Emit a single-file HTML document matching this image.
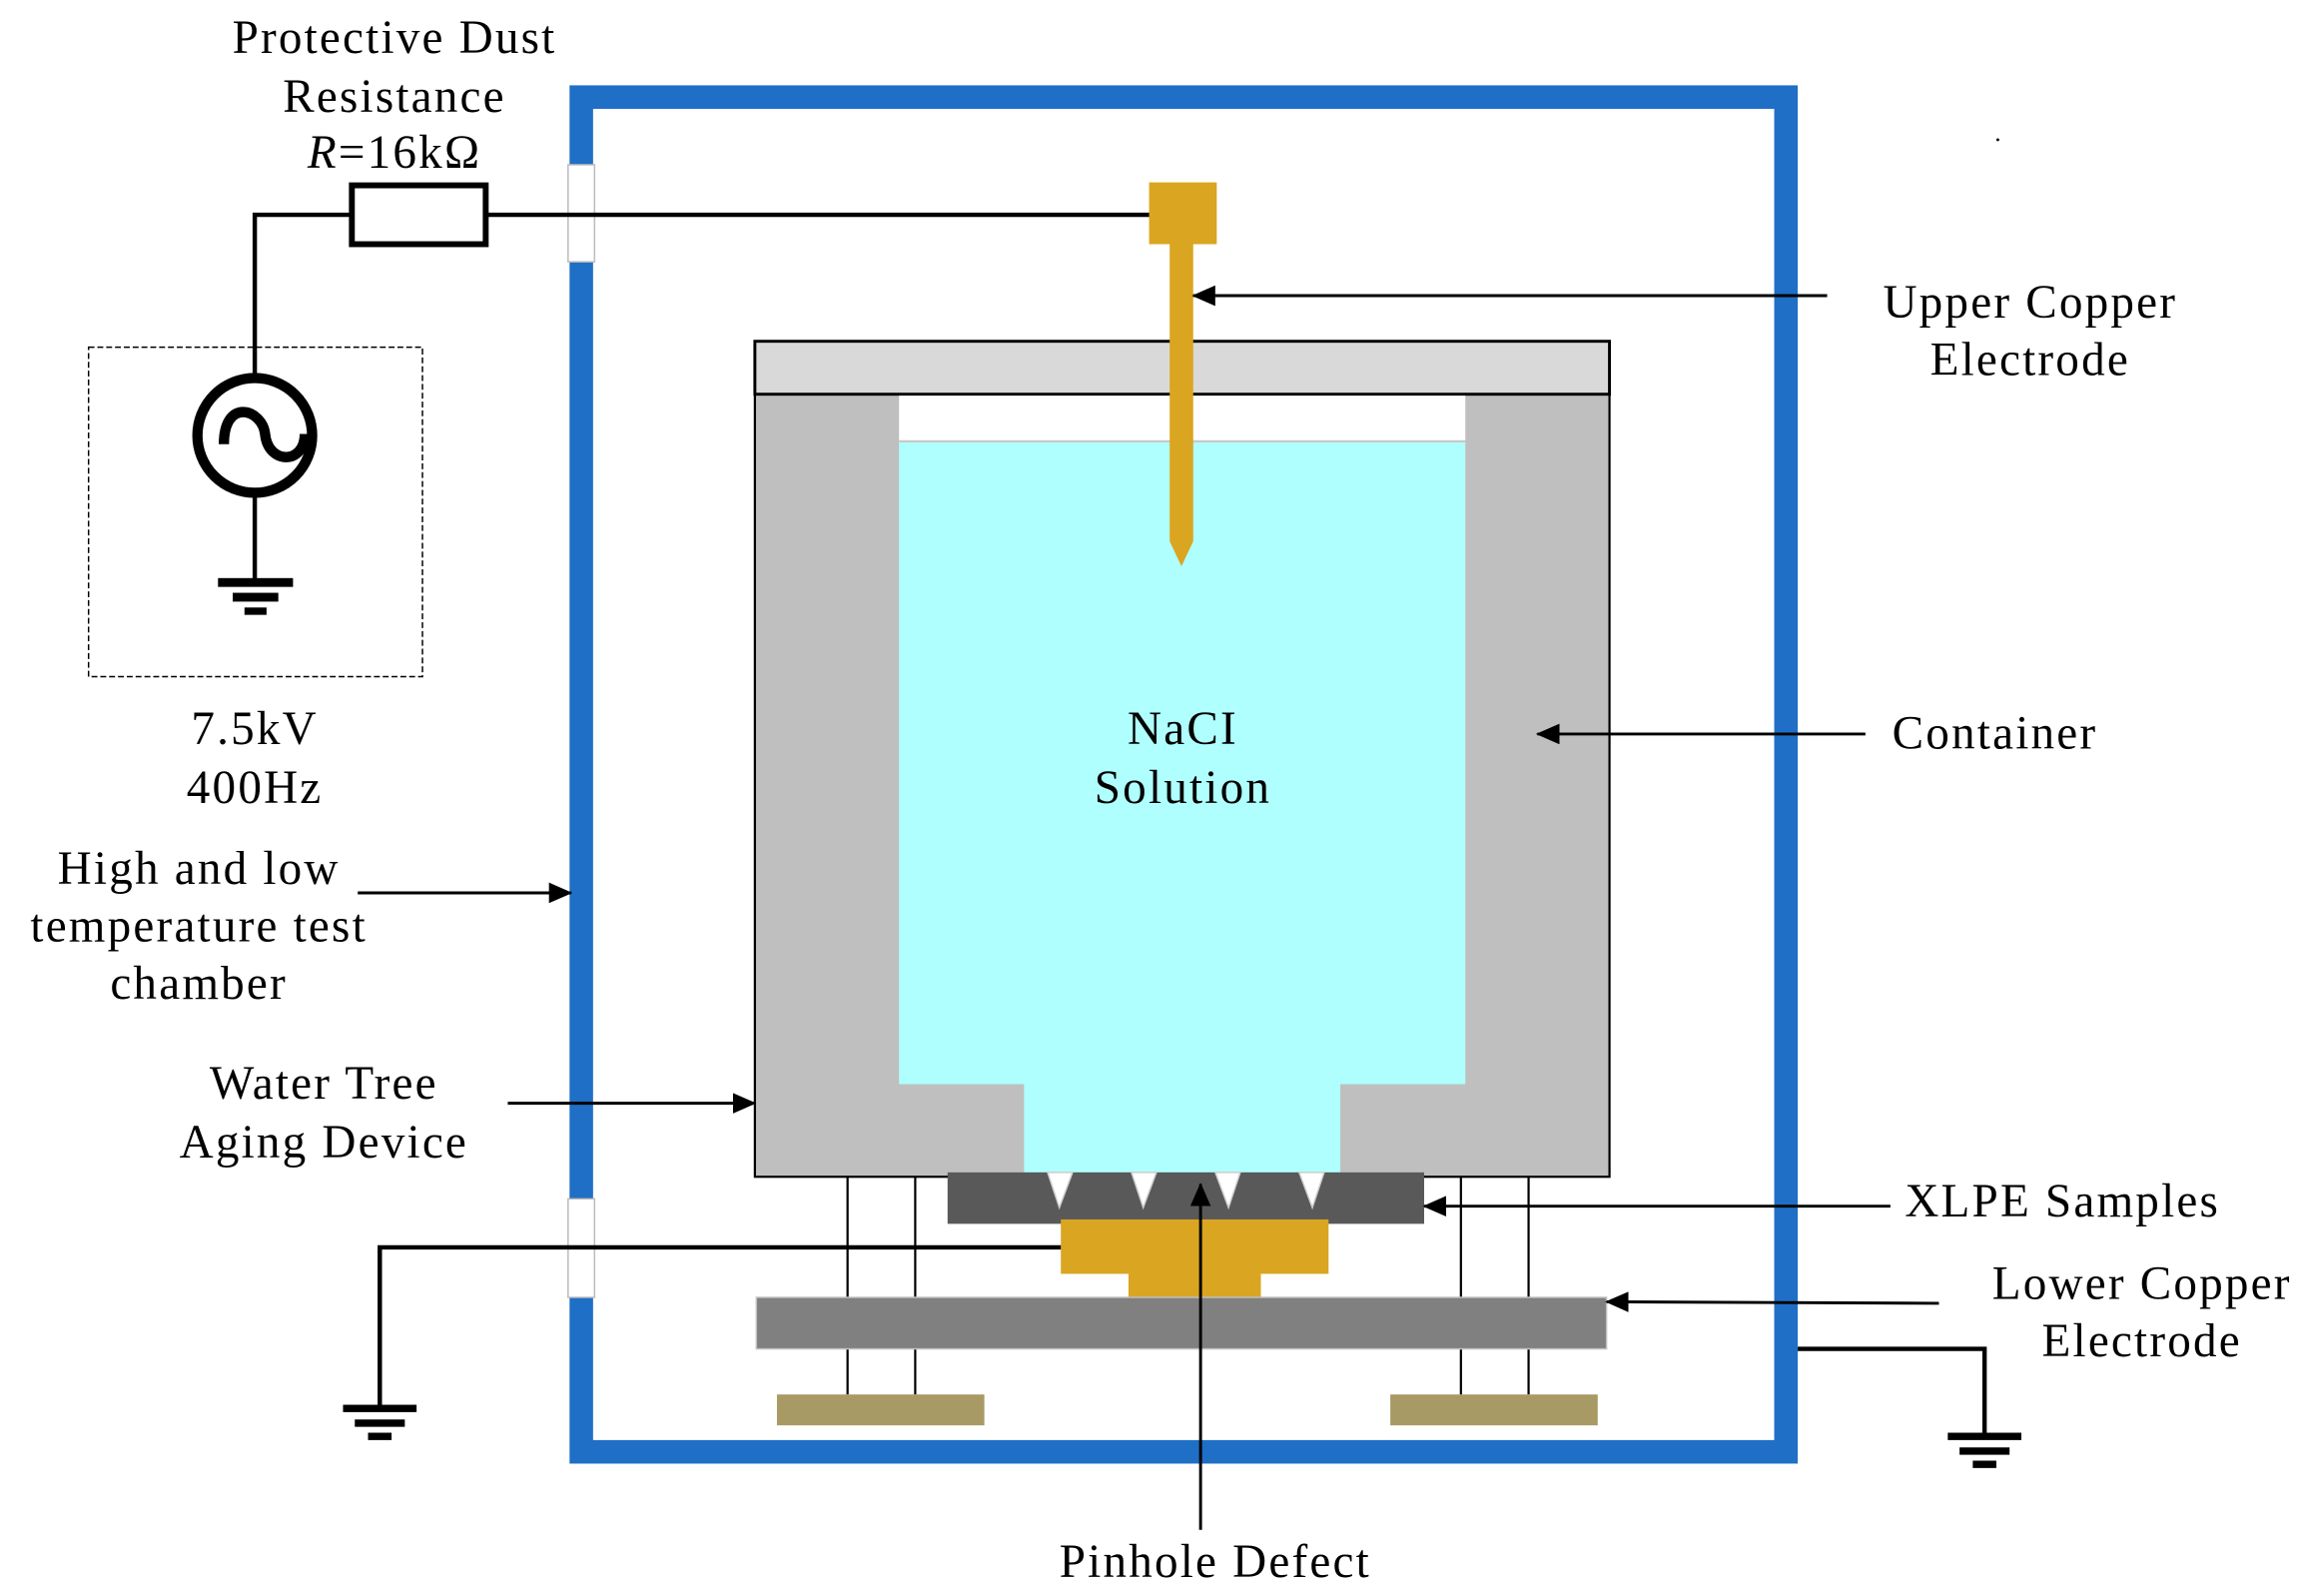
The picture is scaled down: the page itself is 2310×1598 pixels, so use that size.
<!DOCTYPE html>
<html><head><meta charset="utf-8"><style>html,body{margin:0;padding:0;background:#fff}svg{display:block}</style></head>
<body>
<svg width="2310" height="1598" viewBox="0 0 1568 1085" xmlns="http://www.w3.org/2000/svg">
<defs>
<marker id="ar2" markerWidth="16" markerHeight="14" refX="15" refY="7" orient="auto" markerUnits="userSpaceOnUse"><path d="M0,0 L16,7 L0,14 z" fill="#000"/></marker></defs>
<rect width="1568" height="1085" fill="#fff"/>
<rect x="395" y="66" width="819" height="921" fill="none" stroke="#1f6fc6" stroke-width="16"/>
<rect x="386" y="112" width="18" height="66" fill="#fff" stroke="#bbb" stroke-width="1"/>
<rect x="386" y="815" width="18" height="67" fill="#fff" stroke="#bbb" stroke-width="1"/>
<rect x="60" y="236" width="227" height="224" fill="none" stroke="#000" stroke-width="1" stroke-dasharray="4,2"/>
<rect x="239" y="126" width="91" height="40" fill="#fff" stroke="#000" stroke-width="4"/>
<path d="M173,260 V146 H239 M330,146 H782" fill="none" stroke="#000" stroke-width="3"/>
<circle cx="173" cy="296" r="39" fill="#fff" stroke="#000" stroke-width="7"/>
<path d="M152,302 C152,270 178,278 180,295 C182,316 207,316 207,295" fill="none" stroke="#000" stroke-width="7"/>
<path d="M173,335 V395" stroke="#000" stroke-width="3"/>
<rect x="148" y="393" width="51" height="6"/><rect x="158" y="403" width="31" height="6"/><rect x="166" y="413" width="15" height="5"/>
<rect x="513" y="268" width="581" height="532" fill="#bfbfbf" stroke="#000" stroke-width="1.5"/>
<rect x="513" y="232" width="581" height="36" fill="#d9d9d9" stroke="#000" stroke-width="2"/>
<rect x="611" y="269" width="385" height="31" fill="#fff"/>
<path d="M611,300 H996 V737 H911 V797 H696 V737 H611 Z" fill="#b0ffff"/>
<line x1="611" y1="300" x2="996" y2="300" stroke="#c8c8c8" stroke-width="1.5"/>
<rect x="781" y="124" width="46" height="42" fill="#daa520"/>
<path d="M795,165 H811 V368 L803,385 L795,368 Z" fill="#daa520"/>
<path d="M576,800 V948 M622,800 V948 M993,800 V948 M1039,800 V948" stroke="#000" stroke-width="1.5"/>
<rect x="644" y="797" width="324" height="35" fill="#595959"/>
<g fill="#fff" stroke="#ccc" stroke-width="1"><path d="M712,797 H729 L720,821 Z"/><path d="M769,797 H786 L777,821 Z"/><path d="M826,797 H843 L835,821 Z"/><path d="M883,797 H900 L892,821 Z"/></g>
<rect x="721" y="829" width="182" height="37" fill="#daa520"/>
<rect x="767" y="865" width="90" height="17" fill="#daa520"/>
<rect x="514" y="882" width="578" height="35" fill="#808080" stroke="#c0c0c0" stroke-width="1"/>
<rect x="528" y="948" width="141" height="21" fill="#a89a64"/>
<rect x="945" y="948" width="141" height="21" fill="#a89a64"/>
<path d="M721,848 H258 V957" fill="none" stroke="#000" stroke-width="3"/>
<rect x="233" y="955" width="50" height="5"/><rect x="241" y="965" width="34" height="5"/><rect x="250" y="974" width="16" height="5"/>
<path d="M1222,917 H1349 V976" fill="none" stroke="#000" stroke-width="3"/>
<rect x="1324" y="974" width="50" height="5"/><rect x="1332" y="984" width="34" height="5"/><rect x="1341" y="993" width="16" height="5"/>
<g stroke="#000" stroke-width="2" fill="none" marker-end="url(#ar2)">
<line x1="1242" y1="201" x2="811" y2="201"/>
<line x1="1268" y1="499" x2="1045" y2="499"/>
<line x1="1285" y1="820" x2="968" y2="820"/>
<line x1="1318" y1="886" x2="1092" y2="885"/>
<line x1="816" y1="1040" x2="816" y2="805"/>
<line x1="243" y1="607" x2="388" y2="607"/>
<line x1="345" y1="750" x2="513" y2="750"/>
</g>
<g font-family="Liberation Serif, serif" font-size="32" letter-spacing="1.5" fill="#000" text-anchor="middle">
<text x="268" y="36">Protective Dust</text>
<text x="268" y="76">Resistance</text>
<text x="268" y="114"><tspan font-style="italic">R</tspan>=16kΩ</text>
<text x="173" y="506">7.5kV</text>
<text x="173" y="546">400Hz</text>
<text x="135" y="601">High and low</text>
<text x="135" y="640">temperature test</text>
<text x="135" y="679">chamber</text>
<text x="220" y="747">Water Tree</text>
<text x="220" y="787">Aging Device</text>
<text x="804" y="506">NaCI</text>
<text x="804" y="546">Solution</text>
<text x="1380" y="216">Upper Copper</text>
<text x="1380" y="255">Electrode</text>
<text x="1356" y="509">Container</text>
<text x="1402" y="827">XLPE Samples</text>
<text x="1456" y="883">Lower Copper</text>
<text x="1456" y="922">Electrode</text>
<text x="826" y="1072">Pinhole Defect</text>
</g>
<circle cx="1358" cy="95" r="1" fill="#000"/>
</svg>
</body></html>
